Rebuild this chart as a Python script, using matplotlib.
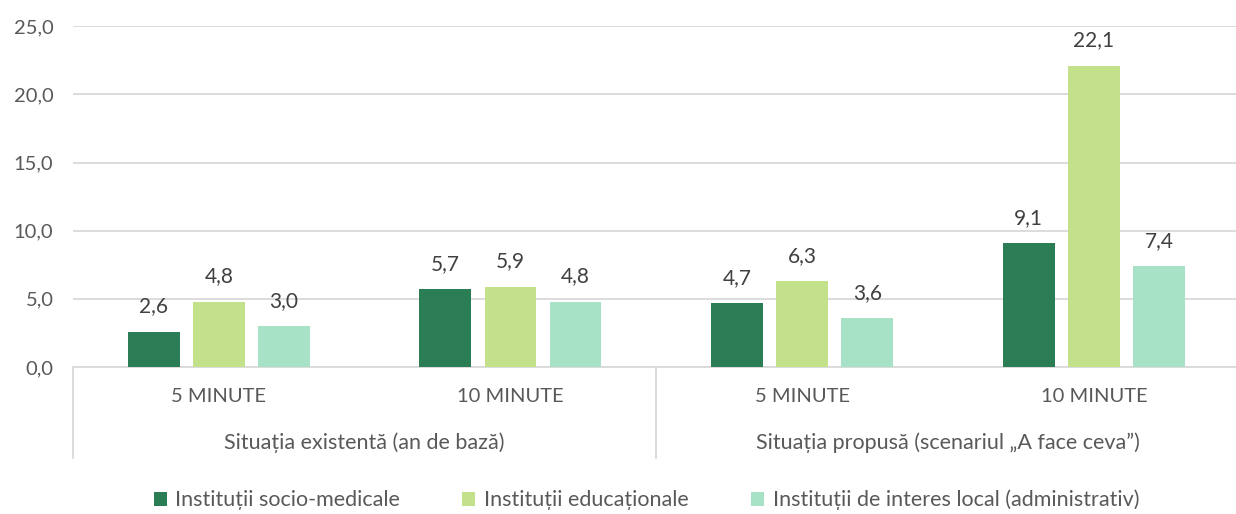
import matplotlib.pyplot as plt
import matplotlib.transforms as mtransforms
import numpy as np

plt.rcParams['font.family'] = ['Lato', 'DejaVu Sans']

# Data
categories = ["5 MINUTE", "10 MINUTE", "5 MINUTE", "10 MINUTE"]
groups = ["Situația existentă (an de bază)", "Situația propusă (scenariul „A face ceva”)"]
series_names = ["Instituții socio-medicale", "Instituții educaționale",
                "Instituții de interes local (administrativ)"]
socio_medicale = [2.6, 5.7, 4.7, 9.1]
educationale = [4.8, 5.9, 6.3, 22.1]
interes_local = [3.0, 4.8, 3.6, 7.4]
y_ticks = [0, 5, 10, 15, 20, 25]

colors = ["#2A7D54", "#C3E08A", "#A8E2C6"]
text_color = "#595959"
grid_color = "#D9D9D9"

fig = plt.figure(figsize=(12.36, 5.14), dpi=100)
ax = fig.add_axes([0.059, 0.286, 0.944, 0.663])

x = np.arange(len(categories))
width = 0.178
offsets = [-0.223, 0.0, 0.223]
all_series = [socio_medicale, educationale, interes_local]

for vals, off, col, name in zip(all_series, offsets, colors, series_names):
    bars = ax.bar(x + off, vals, width, color=col, label=name, zorder=3)
    for b, v in zip(bars, vals):
        ax.annotate(f"{v:.1f}".replace(".", ","),
                    (b.get_x() + b.get_width() / 2, v),
                    xytext=(0, 11), textcoords="offset points",
                    ha="center", va="bottom", fontsize=15, color="#404040")

ax.set_xlim(-0.5, 3.5)
ax.set_ylim(0, 25)
ax.set_yticks(y_ticks)
ax.set_yticklabels([f"{t:.1f}".replace(".", ",") for t in y_ticks],
                   fontsize=14.5, color=text_color)
ax.tick_params(axis="y", length=0, pad=14)
ax.set_xticks([])
ax.yaxis.grid(True, color=grid_color, linewidth=1.3, zorder=0)
for s in ["top", "right", "left"]:
    ax.spines[s].set_visible(False)
ax.spines["bottom"].set_color(grid_color)
ax.spines["bottom"].set_linewidth(1.3)

# Two-level category axis below the plot
trans = mtransforms.blended_transform_factory(ax.transData, ax.transAxes)
for xv in [-0.5, 1.5, 3.5]:
    ax.plot([xv, xv], [0, -0.267], transform=trans, color=grid_color,
            linewidth=1.3, clip_on=False)
for xi, c in zip(x, categories):
    ax.text(xi, -0.088, c, transform=trans, ha="center", va="center",
            fontsize=14.5, color=text_color)
for gi, g in enumerate(groups):
    ax.text(0.5 + 2 * gi, -0.223, g, transform=trans, ha="center", va="center",
            fontsize=15.5, color=text_color)

leg = fig.legend(loc="center", bbox_to_anchor=(0.523, 0.027), ncol=3,
                 frameon=False, fontsize=15.5, handlelength=0.6, handleheight=0.6,
                 handletextpad=0.4, columnspacing=2.9)
for t in leg.get_texts():
    t.set_color(text_color)

fig.savefig("out.png", dpi=100)
